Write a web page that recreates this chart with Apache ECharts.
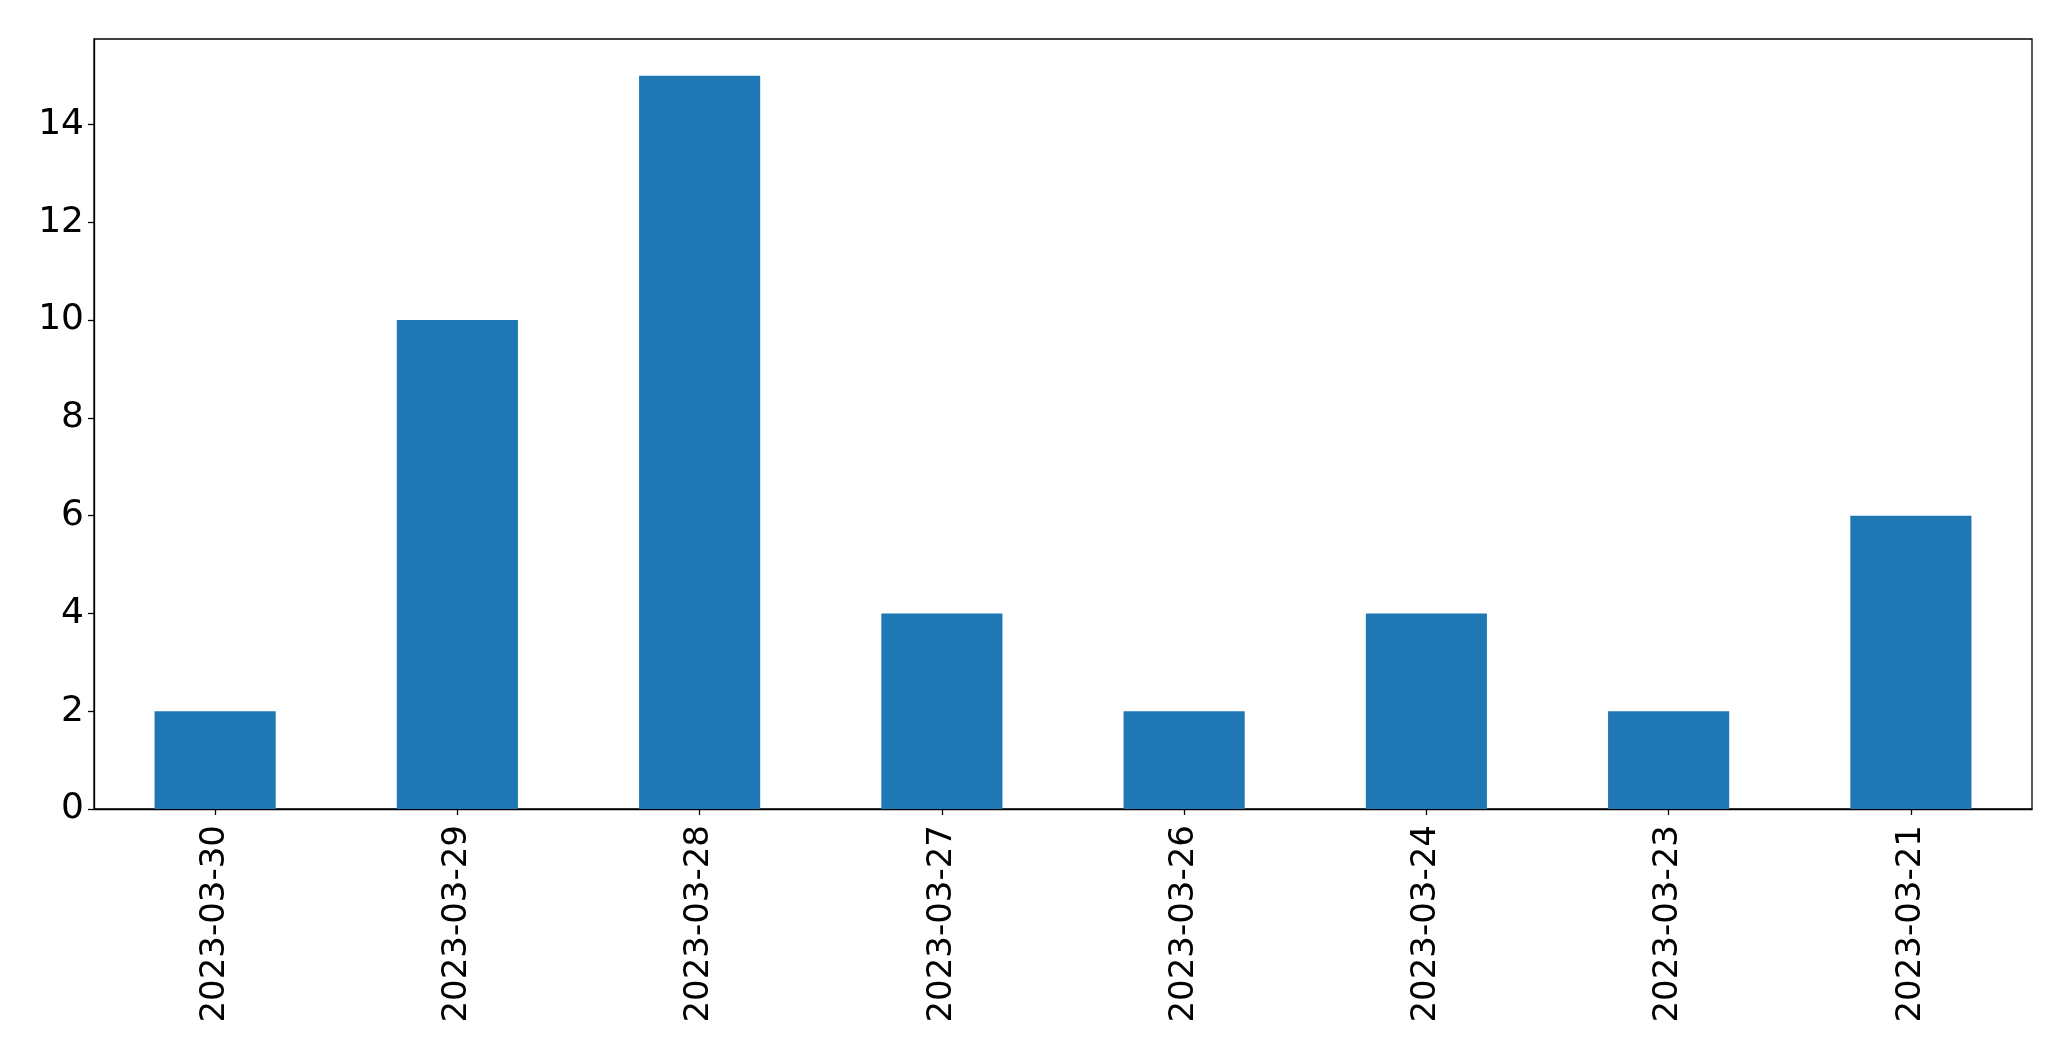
<!DOCTYPE html>
<html>
<head>
<meta charset="utf-8">
<script src="https://cdn.jsdelivr.net/npm/echarts@6/dist/echarts.min.js"></script>
<style>
html,body{margin:0;padding:0;background:#fff;}
#chart{width:2071px;height:1061px;}
</style>
</head>
<body>
<div id="chart"></div>
<script>
const categories = ["2023-03-30","2023-03-29","2023-03-28","2023-03-27","2023-03-26","2023-03-24","2023-03-23","2023-03-21"];
const values = [2, 10, 15, 4, 2, 4, 2, 6];
const yTicks = [0, 2, 4, 6, 8, 10, 12, 14];

const chart = echarts.init(document.getElementById('chart'), null, {renderer: 'canvas'});
const font = "'DejaVu Sans', sans-serif";
chart.setOption({
  animation: false,
  backgroundColor: '#fff',
  grid: {left: 94, right: 39, top: 39, bottom: 252, show: true, borderColor: '#000', borderWidth: 1.3, containLabel: false},
  xAxis: {
    type: 'category',
    data: categories,
    boundaryGap: true,
    axisLine: {show: true, lineStyle: {color: '#000', width: 1.3}},
    axisTick: {show: true, alignWithLabel: true, length: 6, lineStyle: {color: '#000', width: 1.3}},
    axisLabel: {rotate: 90, margin: 16, fontSize: 34, color: '#000', fontFamily: font},
    splitLine: {show: false}
  },
  yAxis: {
    type: 'value',
    min: 0,
    max: 15.75,
    interval: 2,
    axisLine: {show: true, lineStyle: {color: '#000', width: 1.3}},
    axisTick: {show: true, length: 6, lineStyle: {color: '#000', width: 1.3}, customValues: yTicks},
    axisLabel: {margin: 10, fontSize: 36, color: '#000', fontFamily: font, customValues: yTicks},
    splitLine: {show: false}
  },
  series: [{
    type: 'bar',
    data: values,
    barWidth: '50%',
    itemStyle: {color: '#1f77b4'}
  }]
});
</script>
</body>
</html>
